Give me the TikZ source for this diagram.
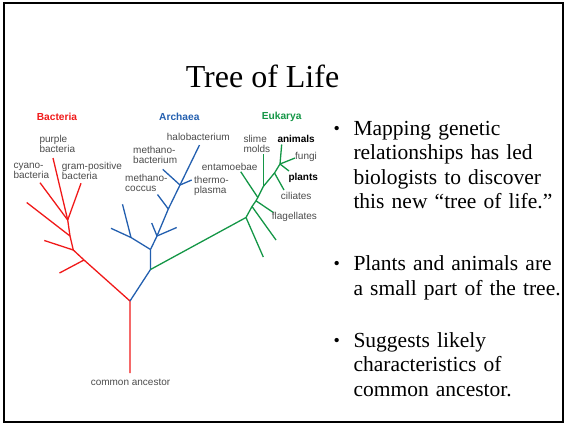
\documentclass[tikz,border=0pt]{standalone}
\usepackage{fontspec}
\setmainfont{Liberation Serif}
\newfontfamily\treefont{Liberation Sans}
\definecolor{bactred}{RGB}{240,25,25}
\definecolor{archblue}{RGB}{35,95,175}
\definecolor{eukgreen}{RGB}{20,150,70}
\definecolor{taxgray}{RGB}{75,75,75}
\begin{document}
\begin{tikzpicture}[
  x=1pt, y=-1pt,
  tax/.style={font={\treefont\fontsize{10}{10}\selectfont}, text=taxgray,
              inner sep=0pt, align=left, anchor=west},
  taxbold/.style={tax, font={\treefont\bfseries\fontsize{10}{10}\selectfont}, text=black},
  domname/.style={font={\treefont\bfseries\fontsize{10.2}{10}\selectfont}, inner sep=0pt},
  bact/.style={draw=bactred, line width=1.3pt},
  arch/.style={draw=archblue, line width=1.3pt},
  euk/.style={draw=eukgreen, line width=1.3pt},
  bulletlines/.style={font={\fontsize{21.5}{24.5}\selectfont}, inner sep=0pt,
                text width=215pt, align=left, anchor=base west},
  bulletdot/.style={font={\fontsize{18}{18}\selectfont}, inner sep=0pt, anchor=base west}
]
\useasboundingbox (0,0) rectangle (565,424);
\draw[line width=2pt] (4.3,3.2) rectangle (563.4,422.3);

\node[font={\fontsize{32}{32}\selectfont}, inner sep=0pt, anchor=base] (title) at (262.5,87.3) {Tree of Life};

% tree points
\coordinate (rbase) at (130,373);
\coordinate (rroot) at (130,301);
\coordinate (rD) at (84,260);     \coordinate (rDt) at (59.5,273);
\coordinate (rC) at (73.3,250);   \coordinate (rCt) at (44.3,240.5);
\coordinate (rB) at (70,236);     \coordinate (rBt) at (26.7,202.5);
\coordinate (rA) at (67.7,220);
\coordinate (purple) at (53,158);
\coordinate (gram) at (81,183.3);
\coordinate (cyano) at (40,182.7);

\coordinate (bG) at (150.5,269.5);
\coordinate (bH) at (150.5,249.5);
\coordinate (bL) at (131,237.5);  \coordinate (bLt) at (111,228.3);
\coordinate (bLu) at (122.5,204.3);
\coordinate (bI) at (157,236);    \coordinate (bIr) at (176.7,227.5);
\coordinate (bIu) at (151.7,223);
\coordinate (bJ) at (168.3,209);  \coordinate (coccus) at (157.5,194.5);
\coordinate (bK) at (180,185);
\coordinate (mbact) at (162.7,169.3);
\coordinate (thermo) at (191.7,180);
\coordinate (halo) at (199.5,145);

\coordinate (gE1) at (246,217.5); \coordinate (gE1t) at (263.3,257);
\coordinate (gE2) at (252,206.5); \coordinate (gE2t) at (276,240);
\coordinate (gE3) at (256,200.8); \coordinate (flag) at (273.3,212.5);
\coordinate (gE4) at (257.8,197.5); \coordinate (ent) at (240.7,171.7);
\coordinate (gE5) at (263.3,186.5); \coordinate (slime) at (263.3,154);
\coordinate (gE6) at (274.5,173); \coordinate (cil) at (284,190);
\coordinate (gA) at (280,164);
\coordinate (anim) at (281.7,144.5);
\coordinate (fungi) at (295,158);
\coordinate (plant) at (289,171);

% Bacteria
\draw[bact] (rbase) -- (rroot) -- (rD) -- (rC) -- (rB) -- (rA) -- (purple);
\draw[bact] (rD) -- (rDt);
\draw[bact] (rC) -- (rCt);
\draw[bact] (rB) -- (rBt);
\draw[bact] (rA) -- (gram);
\draw[bact] (rA) -- (cyano);

% Archaea
\draw[arch] (rroot) -- (bG) -- (bH) -- (bI) -- (bJ) -- (bK) -- (halo);
\draw[arch] (bH) -- (bL) -- (bLt);
\draw[arch] (bL) -- (bLu);
\draw[arch] (bI) -- (bIr);
\draw[arch] (bI) -- (bIu);
\draw[arch] (bJ) -- (coccus);
\draw[arch] (bK) -- (mbact);
\draw[arch] (bK) -- (thermo);

% Eukarya
\draw[euk] (bG) -- (gE1) -- (gE2) -- (gE3) -- (gE4) -- (gE5) -- (gE6) -- (gA) -- (anim);
\draw[euk] (gE1) -- (gE1t);
\draw[euk] (gE2) -- (gE2t);
\draw[euk] (gE3) -- (flag);
\draw[euk] (gE4) -- (ent);
\draw[euk] (gE5) -- (slime);
\draw[euk] (gE6) -- (cil);
\draw[euk] (gA) -- (fungi);
\draw[euk] (gA) -- (plant);

% labels
\node[domname, text=bactred] (bacteria) at (57,117) {Bacteria};
\node[domname, text=archblue] (archaea) at (179.3,117) {Archaea};
\node[domname, text=eukgreen] (eukarya) at (281.7,117) {Eukarya};

\node[tax] (lpurple) at (39.3,144) {purple\\bacteria};
\node[tax] (lcyano) at (13.3,171) {cyano-\\bacteria};
\node[tax] (lgram) at (61.7,171) {gram-positive\\bacteria};
\node[tax] (lhalo) at (166.7,137.3) {halobacterium};
\node[tax] (lmbact) at (133,155.3) {methano-\\bacterium};
\node[tax] (lcoccus) at (125,183.3) {methano-\\coccus};
\node[tax] (lthermo) at (194,186) {thermo-\\plasma};
\node[tax] (lent) at (201.7,166.7) {entamoebae};
\node[tax] (lslime) at (243.3,144) {slime\\molds};
\node[taxbold] (lanim) at (277.3,139) {animals};
\node[tax] (lfungi) at (295,157.3) {fungi};
\node[taxbold] (lplant) at (288.3,178.3) {plants};
\node[tax] (lcil) at (280.7,196) {ciliates};
\node[tax] (lflag) at (271.7,216.7) {flagellates};
\node[tax, anchor=center] (lcommon) at (130.5,382.7) {common ancestor};

% bullets
\node[bulletdot] (d1) at (333.5,134) {\textbullet};
\node[bulletlines] (p1) at (353.3,135) {Mapping genetic\\relationships has led\\biologists to discover\\this new “tree of life.”};
\node[bulletdot] (d2) at (333.5,269.5) {\textbullet};
\node[bulletlines] (p2) at (353.3,270.5) {Plants and animals are\\a small part of the tree.};
\node[bulletdot] (d3) at (333.5,346) {\textbullet};
\node[bulletlines] (p3) at (353.3,347) {Suggests likely\\characteristics of\\common ancestor.};
\end{tikzpicture}
\end{document}
